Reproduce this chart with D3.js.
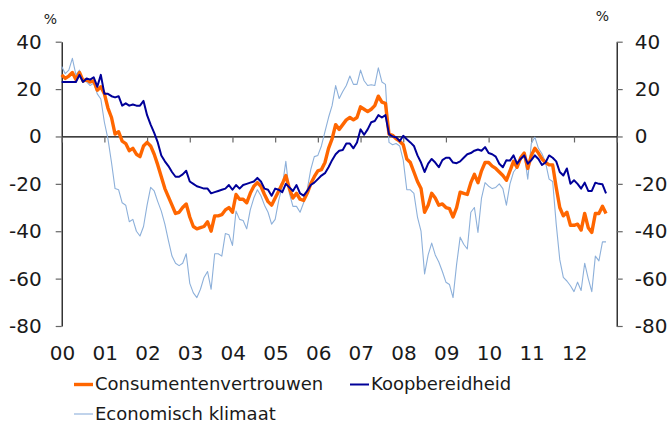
<!DOCTYPE html>
<html>
<head>
<meta charset="utf-8">
<script src="https://cdn.jsdelivr.net/npm/d3@7"></script>
<style>
  html, body { margin: 0; padding: 0; background: #fff; }
  svg { display: block; font-family: "DejaVu Sans", Verdana, sans-serif; }
</style>
</head>
<body>
<svg id="chart" width="671" height="424"></svg>
<script>
// ---- Data (monthly, Jan 2000 - Oct 2012) ----
const startYear = 2000;
const yearLabels = ["00","01","02","03","04","05","06","07","08","09","10","11","12"];
const yTicks = [-80, -60, -40, -20, 0, 20, 40];
const seriesNames = ["Consumentenvertrouwen", "Koopbereidheid", "Economisch klimaat"];

const consumentenvertrouwen = [
  26, 24.5, 25.5, 27, 24, 27, 23.5, 24, 23, 23.5, 19.5, 21,
  18, 12, 8, 1, 2, -2, -3, -6, -5, -7.5, -8.5, -4,
  -2.5, -4, -7.5, -12, -17, -22, -25.5, -29, -32.5, -32, -30, -28.5,
  -34, -38, -39, -38.5, -38, -36, -40, -33.5, -33.5, -33, -31, -30,
  -32, -24.5, -26.5, -26.5, -28, -24, -21, -19.5, -21, -24.5, -27.5, -29,
  -26, -23, -20, -16.5, -22, -26, -24, -26.5, -27, -24, -20, -17,
  -14.5, -14, -11, -5, -1, 5, 3, 5, 7, 8, 7, 8,
  12.5, 11.5, 10.5, 11.5, 13, 17, 14.5, 14, 1, 0.5, -1, -2,
  -3.5, -9.5, -11, -15, -19, -22, -32, -29, -24, -26, -29, -28.5,
  -30, -30.5, -34, -30, -23.5, -24, -24.5, -19.5, -16, -19.5, -14.5, -11,
  -11, -12.5, -13.5, -15, -16.5, -18.5, -14.5, -10.5, -13, -9, -7, -13.5,
  -8, -5, -7, -9.5, -11, -12, -12, -21.5, -30, -33.5, -32, -37.5,
  -37.5, -37, -39.5, -32.5, -38.5, -40.5, -32.5, -32.5, -29.5, -32.5
];

const koopbereidheid = [
  23, 23, 23, 23, 23, 26, 23, 24.5, 24, 25, 21, 26,
  18, 18, 17, 16.5, 17, 13, 14, 13, 13.5, 13, 13, 15,
  9, 5, 1.5, -2.5, -8, -10.5, -12.5, -15, -17, -17, -16, -14.5,
  -19, -20, -21, -21.5, -22, -22, -24, -23.5, -23, -22.5, -22, -20.5,
  -22.5, -20.5, -22, -20.5, -20, -19.5, -19, -17.5, -19, -22, -22.5, -25,
  -22, -22.5, -23.5, -20, -21.5, -23, -20.5, -24, -25, -23, -20.5, -19.5,
  -18, -16.5, -15.5, -13, -10, -7.5, -6, -5.7, -3, -3, -5, -2.5,
  3, 0.7, 3, 6, 6.5, 9, 8, 9, 1, 0, -0.3, -2,
  0.3, -1.2, -2.5, -4, -8, -11, -15, -11.5, -9.5, -11, -13, -10,
  -9, -9, -11, -11.3, -10.5, -9, -7.5, -7, -6, -5.5, -6, -4.5,
  -7, -7.5, -8.5, -11.5, -13, -10, -10.2, -8, -11.5, -9.5, -8, -11.5,
  -10, -8, -9.5, -12, -11, -8, -9, -10.5, -15, -16.5, -13.5, -20,
  -18.5, -20, -22, -19.5, -23, -23, -19.5, -20, -20.2, -24
];

const economischKlimaat = [
  29.5, 26.5, 28, 33, 26, 28, 24, 23, 21.5, 22.5, 18, 15.8,
  6, -1, -11, -22, -22.5, -28, -29, -36, -35, -40, -42, -38,
  -29, -21.5, -23, -27.5, -31.5, -37, -44, -50.5, -53.5, -54.5, -53.5, -49.5,
  -62, -66, -68, -64.5, -59.5, -57, -64.5, -49.5, -49.5, -50.5, -41, -41.5,
  -46, -31.5, -35, -35.5, -39, -31, -26, -22.5, -25, -29, -32, -37,
  -35, -27, -21, -10.5, -24, -29.5, -29.5, -32, -28, -22.5, -14, -8.5,
  -8, -4, 2, 8, 13, 21.5, 16, 19, 21.5, 25.5, 22, 22,
  28, 23.5, 21.5, 21.8, 21.5, 29, 23, 22, -2.5, -3.5, -3, -4,
  -10, -22.5, -22.5, -24, -34, -40, -58, -50, -45, -50, -53, -57,
  -61.5, -62.5, -68, -54, -42.5, -45.5, -47.5, -32, -30, -40.5, -26, -19.5,
  -21, -22, -21.5, -20, -22, -29, -20, -15, -13, -9, -7.3, -18,
  -3, -0.3, -5, -7.3, -11, -18, -19, -37, -52, -59.5, -61, -63,
  -65.5, -61.5, -65, -53.5, -60, -65.5, -50.5, -52.5, -44.5, -44.5
];

// ---- Layout ----
const svg = d3.select("#chart");
const plotLeft = 61.7, plotRight = 616.7, plotTop = 41.7, plotBottom = 326;
const textColor = "#1a1a1a";

const x = d3.scaleLinear().domain([0, 156]).range([plotLeft, plotRight]);
const y = d3.scaleLinear().domain([-80, 40]).range([plotBottom, plotTop]);
const fmt = d => String(d);

// Left axis
const gL = svg.append("g").attr("transform", `translate(${plotLeft},0)`)
  .call(d3.axisLeft(y).tickValues(yTicks).tickSize(6).tickSizeOuter(0).tickPadding(14).tickFormat(fmt));
// Right axis
const gR = svg.append("g").attr("transform", `translate(${plotRight},0)`)
  .call(d3.axisRight(y).tickValues(yTicks).tickSize(6).tickSizeOuter(0).tickPadding(12).tickFormat(fmt));

[gL, gR].forEach(g => {
  g.select(".domain").attr("stroke", "#000").attr("stroke-width", 1.2);
  g.selectAll(".tick line").attr("stroke", "#666").attr("stroke-width", 1.2);
  g.selectAll(".tick text").attr("fill", textColor)
    .style("font-size", "20px").style("font-family", "'DejaVu Sans', Verdana, sans-serif");
});

// Zero line with year ticks
const monthTicks = d3.range(0, 157, 12);
const gX = svg.append("g").attr("transform", `translate(0,${y(0)})`)
  .call(d3.axisBottom(x).tickValues(monthTicks).tickSize(6).tickSizeOuter(0).tickFormat(""));
gX.select(".domain").attr("stroke", "#000").attr("stroke-width", 1.2);
gX.selectAll(".tick line").attr("stroke", "#666").attr("stroke-width", 1.2);

// Year labels at the bottom
svg.append("g").selectAll("text").data(yearLabels).join("text")
  .attr("x", (d, i) => x(i * 12) + 0.8)
  .attr("y", 360)
  .attr("text-anchor", "middle")
  .attr("fill", textColor)
  .style("font-size", "20px")
  .text(d => d);

// % labels
svg.append("text").attr("x", 50.5).attr("y", 24).attr("text-anchor", "middle")
  .attr("fill", textColor).style("font-size", "14px").text("%");
svg.append("text").attr("x", 602.5).attr("y", 21).attr("text-anchor", "middle")
  .attr("fill", textColor).style("font-size", "14px").text("%");

// Lines
const line = d3.line().x((d, i) => x(i)).y(d => y(d));
const series = [
  { name: seriesNames[2], values: economischKlimaat, color: "#8DB0DA", width: 1.1 },
  { name: seriesNames[0], values: consumentenvertrouwen, color: "#FF6600", width: 3.4 },
  { name: seriesNames[1], values: koopbereidheid, color: "#000099", width: 2 }
];
svg.append("g").selectAll("path").data(series).join("path")
  .attr("d", d => line(d.values))
  .attr("fill", "none")
  .attr("stroke", d => d.color)
  .attr("stroke-width", d => d.width)
  .attr("stroke-linejoin", "round");

// Legend
const legend = [
  { name: seriesNames[0], color: "#FF6600", width: 3.4, lx: 74, ly: 384.5 },
  { name: seriesNames[1], color: "#000099", width: 2, lx: 350, ly: 384.5 },
  { name: seriesNames[2], color: "#8DB0DA", width: 1.1, lx: 74, ly: 414 }
];
const lg = svg.append("g").selectAll("g").data(legend).join("g");
lg.append("line")
  .attr("x1", d => d.lx).attr("x2", d => d.lx + 19)
  .attr("y1", d => d.ly).attr("y2", d => d.ly)
  .attr("stroke", d => d.color).attr("stroke-width", d => d.width);
lg.append("text")
  .attr("x", d => d.lx + 21).attr("y", d => d.ly + 5.6)
  .attr("fill", textColor)
  .style("font-size", "18px")
  .text(d => d.name);
</script>
</body>
</html>
